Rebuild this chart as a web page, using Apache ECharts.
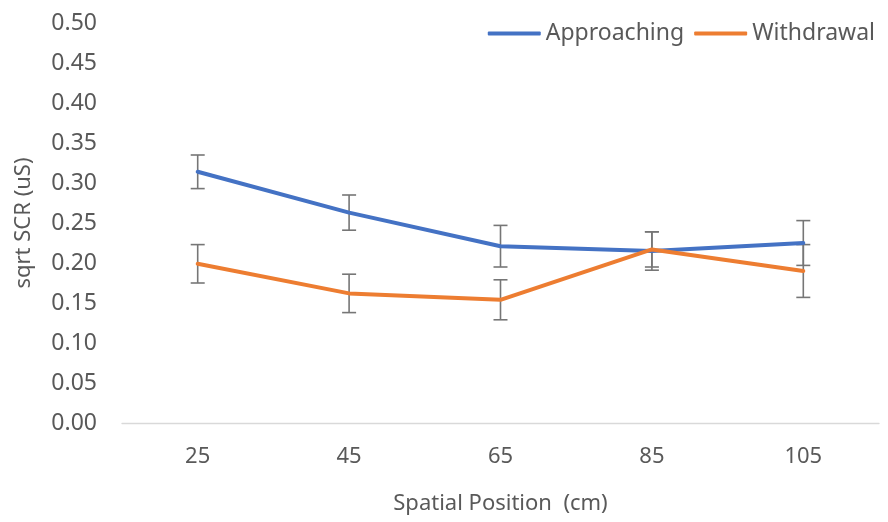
<!DOCTYPE html>
<html>
<head>
<meta charset="utf-8">
<style>
  html, body { margin: 0; padding: 0; background: #fff; }
  #chart { width: 888px; height: 522px; }
</style>
<script src="https://cdn.jsdelivr.net/npm/echarts@6/dist/echarts.min.js"></script>
</head>
<body>
<div id="chart"></div>
<script>
// Skin conductance response by spatial position
const categories = ['25', '45', '65', '85', '105'];
const approaching = [0.314, 0.263, 0.221, 0.215, 0.225];
const approachingErr = [0.021, 0.022, 0.026, 0.024, 0.028];
const withdrawal = [0.199, 0.162, 0.154, 0.217, 0.190];
const withdrawalErr = [0.024, 0.024, 0.025, 0.022, 0.033];

const FONT = '"Noto Sans", sans-serif';
const TEXT = '#595959';

function errorData(values, errs) {
  return values.map((v, i) => [i, v - errs[i], v + errs[i]]);
}

function renderErrorBar(params, api) {
  const x = api.value(0);
  const lo = api.coord([x, api.value(1)]);
  const hi = api.coord([x, api.value(2)]);
  const cap = 7;
  const style = { stroke: '#767676', lineWidth: 1.6 };
  return {
    type: 'group',
    children: [
      { type: 'line', shape: { x1: lo[0], y1: lo[1], x2: hi[0], y2: hi[1] }, style },
      { type: 'line', shape: { x1: hi[0] - cap, y1: hi[1], x2: hi[0] + cap, y2: hi[1] }, style },
      { type: 'line', shape: { x1: lo[0] - cap, y1: lo[1], x2: lo[0] + cap, y2: lo[1] }, style }
    ]
  };
}

const chart = echarts.init(document.getElementById('chart'), null, { renderer: 'canvas' });
chart.setOption({
  animation: false,
  backgroundColor: '#ffffff',
  textStyle: { fontFamily: FONT },
  grid: { left: 122, right: 9, top: 23, bottom: 99, containLabel: false },
  legend: {
    right: 8,
    top: 17,
    itemWidth: 53,
    itemHeight: 4,
    itemGap: 10,
    icon: 'roundRect',
    textStyle: { color: TEXT, fontSize: 23, fontFamily: FONT },
    data: ['Approaching', 'Withdrawal']
  },
  xAxis: {
    type: 'category',
    data: categories,
    boundaryGap: true,
    axisLine: { show: true, lineStyle: { color: '#d9d9d9', width: 1.3 } },
    axisTick: { show: false },
    axisLabel: { color: TEXT, fontSize: 22, margin: 23, fontFamily: FONT },
    name: 'Spatial Position  (cm)',
    nameLocation: 'middle',
    nameGap: 70,
    nameTextStyle: { color: TEXT, fontSize: 22, fontFamily: FONT }
  },
  yAxis: {
    type: 'value',
    min: 0,
    max: 0.5,
    interval: 0.05,
    axisLine: { show: false },
    axisTick: { show: false },
    splitLine: { show: false },
    axisLabel: {
      color: TEXT, fontSize: 23, margin: 25, fontFamily: FONT,
      formatter: v => v.toFixed(2)
    },
    name: 'sqrt SCR (uS)',
    nameLocation: 'middle',
    nameGap: 87,
    nameRotate: 90,
    nameTextStyle: { color: TEXT, fontSize: 22, fontFamily: FONT }
  },
  series: [
    {
      name: 'ApproachingErr',
      type: 'custom',
      renderItem: renderErrorBar,
      data: errorData(approaching, approachingErr),
      z: 1,
      silent: true
    },
    {
      name: 'WithdrawalErr',
      type: 'custom',
      renderItem: renderErrorBar,
      data: errorData(withdrawal, withdrawalErr),
      z: 1,
      silent: true
    },
    {
      name: 'Approaching',
      type: 'line',
      data: approaching,
      symbol: 'none',
      color: '#4472C4',
      lineStyle: { width: 4, color: '#4472C4', cap: 'round', join: 'round' },
      z: 3
    },
    {
      name: 'Withdrawal',
      type: 'line',
      data: withdrawal,
      symbol: 'none',
      color: '#ED7D31',
      lineStyle: { width: 4, color: '#ED7D31', cap: 'round', join: 'round' },
      z: 4
    }
  ]
});
</script>
</body>
</html>
